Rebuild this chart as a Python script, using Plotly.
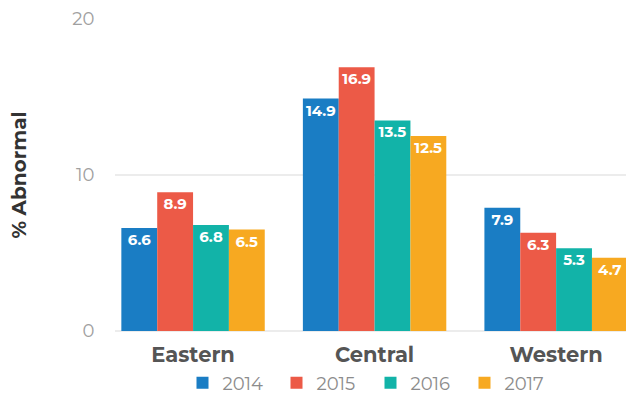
import plotly.graph_objects as go

regions = ["Eastern", "Central", "Western"]
years = ["2014", "2015", "2016", "2017"]
values = {
    "2014": [6.6, 14.9, 7.9],
    "2015": [8.9, 16.9, 6.3],
    "2016": [6.8, 13.5, 5.3],
    "2017": [6.5, 12.5, 4.7],
}
colors = {"2014": "#1a7dc4", "2015": "#ec5a47", "2016": "#12b3a8", "2017": "#f7a921"}
yticks = [0, 10, 20]

FONT = "Montserrat, Open Sans, Lato, sans-serif"

fig = go.Figure()
for yr in years:
    fig.add_trace(go.Bar(
        x=regions, y=values[yr], name=yr,
        marker=dict(color=colors[yr], line=dict(width=0)),
        text=[f"{v:.1f}" for v in values[yr]],
        textposition="inside", insidetextanchor="end",
        textangle=0,
        textfont=dict(color="white", size=16, family=FONT, weight="bold"),
    ))

fig.update_layout(
    width=626, height=395,
    margin=dict(l=115, r=0, t=19, b=64),
    paper_bgcolor="white", plot_bgcolor="white",
    barmode="group", bargap=0.21, bargroupgap=0,
    uniformtext=dict(mode="show", minsize=10),
    font=dict(family=FONT),
    showlegend=True,
    legend=dict(
        orientation="h", x=0.5, xanchor="center",
        yref="container", y=0.03, yanchor="middle",
        font=dict(size=18, color="#8c8c8c", family=FONT),
        entrywidth=49, itemwidth=30, traceorder="normal",
    ),
    xaxis=dict(
        range=[-0.43, 2.385], showgrid=False, zeroline=False, showline=False,
        tickfont=dict(size=21, color="#555555", family=FONT, weight="bold"),
        ticks="outside", ticklen=5, tickcolor="rgba(0,0,0,0)",
        fixedrange=True, automargin=False,
    ),
    yaxis=dict(
        range=[0, 20], tickvals=yticks, ticktext=[str(t) for t in yticks],
        showgrid=True, gridcolor="#ececec", gridwidth=1.5,
        zeroline=True, zerolinecolor="#ececec", zerolinewidth=1.5,
        showline=False, automargin=False, fixedrange=True,
        tickfont=dict(size=18, color="#a0a0a0", family=FONT),
        ticks="outside", ticklen=16, tickcolor="rgba(0,0,0,0)",
        title=dict(text="% Abnormal", standoff=40,
                   font=dict(size=20, color="#333333", family=FONT, weight="bold")),
    ),
)

fig.write_html(
    "out.html",
    config={"displayModeBar": False},
    post_script="document.body.style.margin='0';document.body.style.overflow='hidden';",
)
